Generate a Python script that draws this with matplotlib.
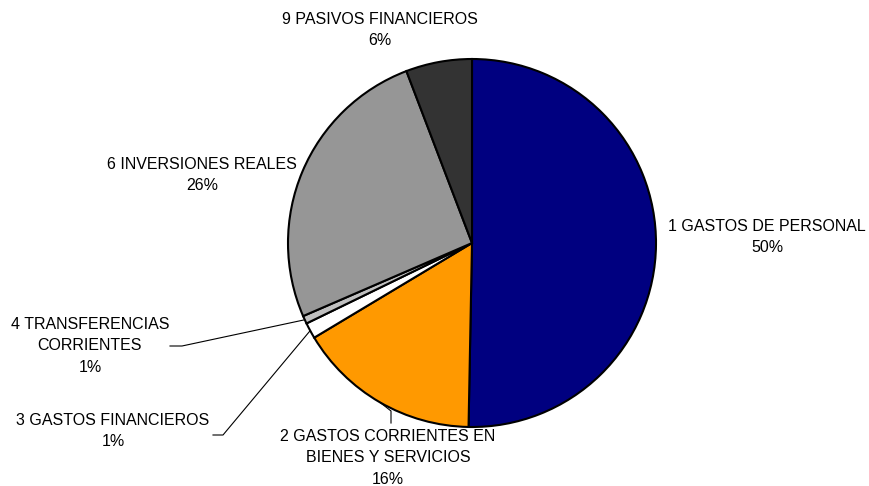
import numpy as np
import matplotlib
matplotlib.use('Agg')
import matplotlib.pyplot as plt

plt.rcParams['font.family'] = ['Liberation Sans', 'DejaVu Sans']

labels = ['1 GASTOS DE PERSONAL', '2 GASTOS CORRIENTES EN\nBIENES Y SERVICIOS',
          '3 GASTOS FINANCIEROS', '4 TRANSFERENCIAS\nCORRIENTES',
          '6 INVERSIONES REALES', '9 PASIVOS FINANCIEROS']
values = [50.3, 16.1, 1.4, 0.7, 25.7, 5.8]
colors = ['#000080', '#FF9900', '#FFFFFF', '#C0C0C0', '#969696', '#333333']

W, H = 869, 486
fig = plt.figure(figsize=(W / 100, H / 100), dpi=100)
ax = fig.add_axes([0, 0, 1, 1])

cx, cy, r = 472, 243, 184
wedges, _ = ax.pie(values, colors=colors, startangle=90, counterclock=False,
                   center=(cx, cy), radius=r, frame=True,
                   wedgeprops=dict(edgecolor='black', linewidth=1.5))

# label positions (pixels from top-left) and leader-line elbows
pos = [(767, 237), (388, 458), (113, 431), (90, 346), (202, 175), (380, 30)]
elbow = [None, [(391, 411), (391, 423)], [(223, 435), (213, 435)],
         [(182, 346), (170, 346)], None, None]

total = sum(values)
for w, lab, v, p, e in zip(wedges, labels, values, pos, elbow):
    ax.text(p[0], H - p[1], f'{lab}\n{v / total * 100:.0f}%', ha='center',
            va='center', fontsize=11.5, linespacing=1.58)
    if e:
        th = np.deg2rad((w.theta1 + w.theta2) / 2)
        x0, y0 = cx + r * np.cos(th), cy + r * np.sin(th)
        xs = [x0] + [q[0] for q in e]
        ys = [y0] + [H - q[1] for q in e]
        ax.plot(xs, ys, color='black', linewidth=0.8)

ax.set_xlim(0, W)
ax.set_ylim(0, H)
ax.set_aspect('equal')
ax.axis('off')
fig.savefig('out.png', dpi=100)
